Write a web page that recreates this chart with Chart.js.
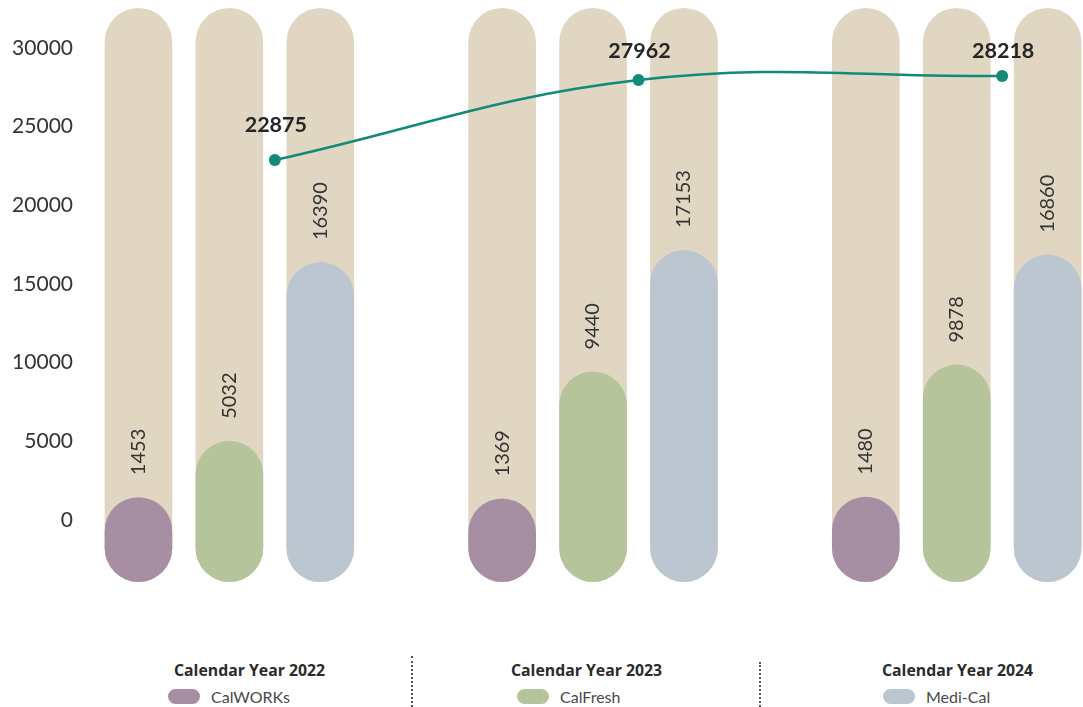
<!DOCTYPE html>
<html><head><meta charset="utf-8">
<script src="https://cdn.jsdelivr.net/npm/chart.js@4.4.1/dist/chart.umd.min.js"></script>
<style>
html,body{margin:0;padding:0;background:#fff;width:1083px;height:707px;overflow:hidden;font-family:Lato,"Noto Sans",sans-serif;}
#wrap{position:absolute;left:0;top:0;width:1190px;height:600px;}
.ttl{position:absolute;top:660px;line-height:20px;font-family:"Open Sans",Lato,sans-serif;font-weight:700;font-size:15.8px;color:#2b2b2b;white-space:nowrap}
.item{position:absolute;top:687px;height:18px;display:flex;align-items:center;font-size:16px;color:#4a4a4a;white-space:nowrap}
.sw{width:32px;height:15px;border-radius:8px;margin-right:11px;flex:none}
.sep{position:absolute;bottom:0;border-left:2px dotted #555}
</style></head><body>
<div id="wrap"><canvas id="c" width="1190" height="600"></canvas></div>
<div id="legend"></div>
<script>
// ---- data ----
const categories = ['Calendar Year 2022', 'Calendar Year 2023', 'Calendar Year 2024'];
const programs = ['CalWORKs', 'CalFresh', 'Medi-Cal'];
const calworks = [1453, 1369, 1480];
const calfresh = [5032, 9440, 9878];
const medical = [16390, 17153, 16860];
const totals = [22875, 27962, 28218];
const yTicks = [0, 5000, 10000, 15000, 20000, 25000, 30000];
const Y_MIN = -3940, Y_MAX = 32540;

// ---- styles ----
const colors = ['#a68fa3', '#b6c49c', '#bcc6d1'];
const trackColor = '#e0d6c1';
const lineColor = '#128a77';
const FONT = 'Lato, "Noto Sans", sans-serif';

const series = [calworks, calfresh, medical];
const stacks = ['s0', 's1', 's2'];

const datasets = [];
// total line (drawn on top)
datasets.push({
  type: 'line', label: 'Total', data: totals, order: 0,
  borderColor: lineColor, backgroundColor: lineColor, borderWidth: 2.5,
  pointRadius: 6, pointHoverRadius: 6, pointBackgroundColor: lineColor, pointBorderWidth: 0,
  tension: 0.4, fill: false, clip: false, isTotal: true
});
// program bars
series.forEach((vals, k) => {
  datasets.push({
    label: programs[k], stack: stacks[k], order: 1,
    data: vals.map(v => [Y_MIN, v]),
    backgroundColor: colors[k], borderWidth: 0, borderSkipped: false, borderRadius: 34,
    barPercentage: 0.744, categoryPercentage: 1.0, isProgram: true, values: vals
  });
});
// background tracks
series.forEach((vals, k) => {
  datasets.push({
    label: programs[k] + ' track', stack: stacks[k], order: 2,
    data: vals.map(() => [Y_MIN, Y_MAX]),
    backgroundColor: trackColor, borderWidth: 0, borderSkipped: false, borderRadius: 34,
    barPercentage: 0.744, categoryPercentage: 1.0
  });
});
// empty slot for the total (line sits at its edge)
datasets.push({
  label: 'Total slot', stack: 'total', order: 3, data: categories.map(() => null),
  backgroundColor: 'rgba(0,0,0,0)', barPercentage: 0.744, categoryPercentage: 1.0
});

const labelPlugin = {
  id: 'labelPlugin',
  afterDatasetsDraw(chart) {
    const ctx = chart.ctx;
    const yScale = chart.scales.y;
    chart.data.datasets.forEach((ds, i) => {
      const meta = chart.getDatasetMeta(i);
      if (ds.isProgram) {
        meta.data.forEach((el, j) => {
          const v = ds.values[j];
          const top = yScale.getPixelForValue(v);
          ctx.save();
          ctx.translate(el.x, top - 22);
          ctx.rotate(-Math.PI / 2);
          ctx.font = '20px ' + FONT;
          ctx.fillStyle = '#333';
          ctx.textAlign = 'left';
          ctx.textBaseline = 'middle';
          ctx.fillText(String(v), 0, 0);
          ctx.restore();
        });
      }
      if (ds.isTotal) {
        meta.data.forEach((el, j) => {
          ctx.save();
          ctx.font = 'bold 21.5px ' + FONT;
          ctx.fillStyle = '#262626';
          ctx.textAlign = 'center';
          ctx.textBaseline = 'middle';
          const y = Math.max(el.y - 35, 51.5);
          ctx.fillText(String(ds.data[j]), el.x + 1, y);
          ctx.restore();
        });
      }
    });
  }
};

new Chart(document.getElementById('c'), {
  type: 'bar',
  data: { labels: categories, datasets },
  options: {
    responsive: false, animation: false,
    layout: { padding: { top: 8, bottom: 18, left: 0, right: 0 } },
    plugins: { legend: { display: false }, tooltip: { enabled: false } },
    scales: {
      x: { display: false },
      y: {
        stacked: false, min: Y_MIN, max: Y_MAX,
        grid: { display: false, drawTicks: false }, border: { display: false },
        afterBuildTicks: s => { s.ticks = yTicks.map(v => ({ value: v })); },
        afterFit: s => { s.width = 93; s.paddingTop = 0; s.paddingBottom = 0; },
        ticks: { padding: 20, color: '#333', font: { family: FONT, size: 21 }, callback: v => String(v) }
      }
    }
  },
  plugins: [labelPlugin]
});

// ---- HTML legend ----
const legend = document.getElementById('legend');
const titleLeft = [174, 511, 882];
const swatchLeft = [168, 517, 883];
const sepX = [412, 760];
const sepTop = [656, 662];
categories.forEach((c, k) => {
  const t = document.createElement('div');
  t.className = 'ttl'; t.style.left = titleLeft[k] + 'px'; t.textContent = c;
  legend.appendChild(t);
  const it = document.createElement('div');
  it.className = 'item'; it.style.left = swatchLeft[k] + 'px';
  it.innerHTML = '<span class="sw" style="background:' + colors[k] + '"></span><span>' + programs[k] + '</span>';
  legend.appendChild(it);
});
sepX.forEach((x, k) => {
  const s = document.createElement('div');
  s.className = 'sep'; s.style.left = (x - 1) + 'px'; s.style.top = sepTop[k] + 'px';
  legend.appendChild(s);
});
</script>
</body></html>
